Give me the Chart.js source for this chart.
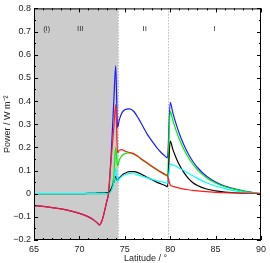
<!DOCTYPE html>
<html>
<head>
<meta charset="utf-8">
<script src="https://cdn.jsdelivr.net/npm/chart.js@4.4.1/dist/chart.umd.min.js"></script>
<style>
  html, body { margin: 0; padding: 0; background: #fff; }
</style>
</head>
<body>
<canvas id="myChart" width="270" height="263"></canvas>
<script>
// latitude grid (degrees) shared by all series
const latitude = [65, 66, 67, 68, 69, 70, 71, 71.5, 72, 72.2, 72.5, 72.8, 73, 73.2,
  73.5, 73.8, 74, 74.2, 74.4, 74.7, 75, 75.5, 76, 76.5, 77, 77.5, 78, 78.5, 79, 79.5, 79.7,
  80, 80.3, 80.7, 81, 81.5, 82, 82.5, 83, 84, 85, 86, 87, 88, 89, 90];

// power (W m^-2)
const powerRed = [-0.052, -0.055, -0.06, -0.066, -0.074, -0.085, -0.1, -0.111, -0.127, -0.135, -0.115, -0.07, -0.035, 0,
  0.15, 0.29, 0.385, 0.177, 0.187, 0.19, 0.184, 0.178, 0.172, 0.16, 0.145, 0.132, 0.118, 0.105, 0.093, 0.082, 0.078,
  0.038, 0.032, 0.027, 0.024, 0.02, 0.017, 0.014, 0.012, 0.009, 0.006, 0.004, 0.003, 0.002, 0.001, 0];
const powerBlue = [-0.052, -0.055, -0.06, -0.066, -0.074, -0.085, -0.1, -0.111, -0.127, -0.135, -0.115, -0.07, -0.035, 0,
  0.17, 0.41, 0.552, 0.285, 0.32, 0.35, 0.362, 0.366, 0.355, 0.325, 0.29, 0.255, 0.227, 0.2, 0.178, 0.16, 0.155,
  0.394, 0.348, 0.295, 0.26, 0.211, 0.171, 0.139, 0.113, 0.075, 0.05, 0.033, 0.022, 0.012, 0.006, 0];
const powerGreen = [0, 0, 0, 0, 0, 0, 0, 0, 0, 0, 0, 0, 0, 0,
  0.02, 0.08, 0.2, 0.12, 0.145, 0.165, 0.173, 0.176, 0.17, 0.158, 0.143, 0.13, 0.116, 0.103, 0.091, 0.08, 0.076,
  0.355, 0.315, 0.267, 0.236, 0.192, 0.156, 0.127, 0.103, 0.069, 0.046, 0.03, 0.02, 0.011, 0.005, 0];
const powerBlack = [0, 0, 0, 0, 0, 0, 0.001, 0.001, 0.002, 0.002, 0.003, 0.003, 0.004, 0.005,
  0.02, 0.05, 0.075, 0.055, 0.068, 0.08, 0.088, 0.095, 0.095, 0.09, 0.08, 0.07, 0.06, 0.05, 0.042, 0.034, 0.03,
  0.227, 0.19, 0.15, 0.125, 0.092, 0.066, 0.047, 0.035, 0.02, 0.012, 0.007, 0.004, 0.002, 0.001, 0];
const powerCyan = [0, 0, 0, 0, 0, 0, 0, 0, 0, 0, 0, 0, 0, 0,
  0.01, 0.05, 0.108, 0.052, 0.065, 0.075, 0.082, 0.087, 0.086, 0.08, 0.074, 0.068, 0.062, 0.057, 0.052, 0.047, 0.045,
  0.128, 0.124, 0.117, 0.11, 0.1, 0.088, 0.077, 0.066, 0.047, 0.033, 0.022, 0.013, 0.007, 0.003, 0];

// region boundaries and names
const boundaryLat = [74.25, 79.8];
const regionNames = ["III", "II", "I"];
const regionLat = [70.1, 77.2, 84.9];
const panelLabel = "(i)";
const xTitle = "Latitude / °";
const yTitle = "Power / W m\u207B\u00B2";

const canvas = document.getElementById("myChart");
const ctx = canvas.getContext("2d");
const FONT = "'Liberation Sans', Arial, sans-serif";

function series(values) {
  return latitude.map((lat, i) => ({ x: lat, y: values[i] }));
}

const regionPlugin = {
  id: "regions",
  beforeDatasetsDraw(chart) {
    const { ctx, chartArea: a, scales: { x } } = chart;
    ctx.save();
    ctx.fillStyle = "#cccccc";
    const x1 = x.getPixelForValue(boundaryLat[0]);
    ctx.fillRect(a.left, a.top, x1 - a.left, a.bottom - a.top);
    ctx.strokeStyle = "#999";
    ctx.lineWidth = 1;
    ctx.setLineDash([1, 2]);
    boundaryLat.forEach((lat) => {
      const px = Math.round(x.getPixelForValue(lat)) + 0.5;
      ctx.beginPath();
      ctx.moveTo(px, a.top);
      ctx.lineTo(px, a.bottom);
      ctx.stroke();
    });
    ctx.restore();
  },
  afterDraw(chart) {
    const { ctx, chartArea: a, scales: { x, y } } = chart;
    ctx.save();
    // frame
    ctx.strokeStyle = "#000";
    ctx.lineWidth = 1;
    ctx.strokeRect(a.left + 0.5, a.top + 0.5, a.right - a.left - 1, a.bottom - a.top - 1);
    // inward ticks on all four sides
    ctx.beginPath();
    for (let v = 65; v <= 90; v += 1) {
      const px = Math.round(x.getPixelForValue(v)) + 0.5;
      const len = v % 5 === 0 ? 4 : 2;
      ctx.moveTo(px, a.bottom); ctx.lineTo(px, a.bottom - len);
      ctx.moveTo(px, a.top); ctx.lineTo(px, a.top + len);
    }
    for (let i = -4; i <= 16; i++) {
      const py = Math.round(y.getPixelForValue(i * 0.05)) + 0.5;
      const len = i % 2 === 0 ? 4 : 2;
      ctx.moveTo(a.left, py); ctx.lineTo(a.left + len, py);
      ctx.moveTo(a.right, py); ctx.lineTo(a.right - len, py);
    }
    ctx.stroke();
    // region labels
    ctx.fillStyle = "#333";
    ctx.font = "8px " + FONT;
    ctx.textAlign = "center";
    ctx.textBaseline = "middle";
    const ly = y.getPixelForValue(0.71);
    ctx.fillText(panelLabel, x.getPixelForValue(66.4), ly);
    regionNames.forEach((name, i) => {
      ctx.fillText(name, x.getPixelForValue(regionLat[i]), ly);
    });
    // axis titles
    ctx.fillStyle = "#222";
    ctx.font = "9px " + FONT;
    ctx.fillText(xTitle, (a.left + a.right) / 2 - 2, 259);
    ctx.translate(8, (a.top + a.bottom) / 2);
    ctx.rotate(-Math.PI / 2);
    ctx.fillText(yTitle, 0, 0);
    ctx.restore();
  }
};

const lineStyle = {
  borderWidth: 1.2,
  pointRadius: 0,
  fill: false,
  cubicInterpolationMode: "monotone"
};

const myChart = new Chart(ctx, {
  type: "line",
  data: {
    datasets: [
      { label: "red", data: series(powerRed), borderColor: "#ff1a1a", ...lineStyle },
      { label: "cyan", data: series(powerCyan), borderColor: "#00ffff", ...lineStyle },
      { label: "black", data: series(powerBlack), borderColor: "#000000", ...lineStyle },
      { label: "green", data: series(powerGreen), borderColor: "#00ee00", ...lineStyle },
      { label: "blue", data: series(powerBlue), borderColor: "#1a1aff", ...lineStyle }
    ]
  },
  options: {
    responsive: false,
    animation: false,
    layout: { padding: { top: 6, right: 7, left: 0, bottom: 0 } },
    plugins: { legend: { display: false }, tooltip: { enabled: false } },
    scales: {
      x: {
        type: "linear",
        min: 65,
        max: 90,
        grid: { display: false, drawTicks: false },
        border: { display: false },
        ticks: {
          stepSize: 5,
          padding: 4,
          maxRotation: 0,
          color: "#222",
          font: { family: FONT, size: 9 }
        },
        afterFit(scale) { scale.height = 23; }
      },
      y: {
        min: -0.2,
        max: 0.8,
        grid: { display: false, drawTicks: false },
        border: { display: false },
        ticks: {
          stepSize: 0.1,
          padding: 3,
          color: "#222",
          font: { family: FONT, size: 9 },
          callback: (v) => {
            const n = Math.round(v * 10) / 10;
            if (n === 0) return "0";
            return n < 0 ? "\u2212" + Math.abs(n).toFixed(1) : n.toFixed(1);
          }
        },
        afterFit(scale) { scale.width = 34; }
      }
    }
  },
  plugins: [regionPlugin]
});
</script>
</body>
</html>
